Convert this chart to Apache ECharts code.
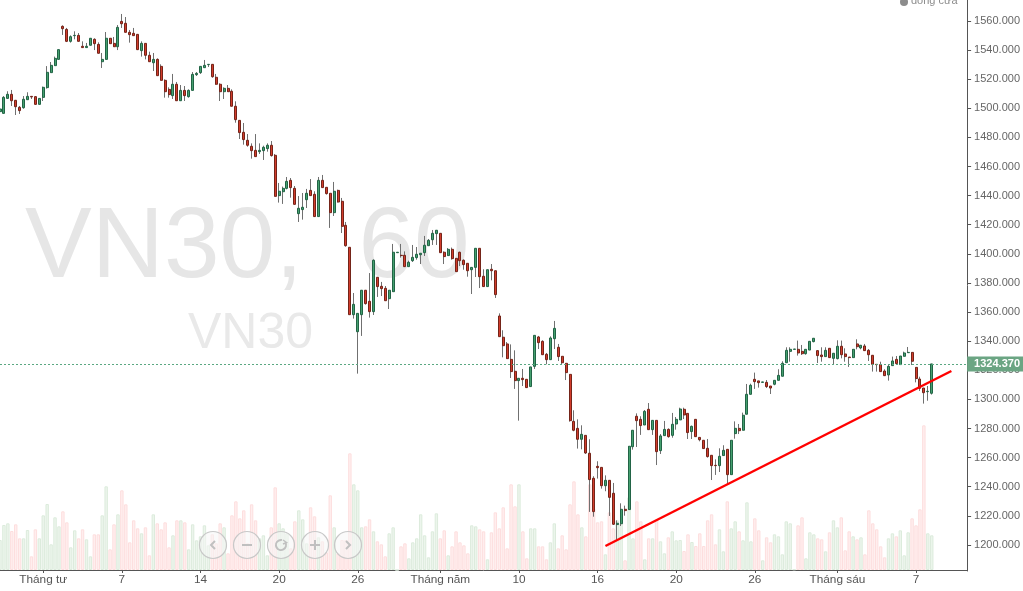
<!DOCTYPE html>
<html><head><meta charset="utf-8">
<style>html,body{margin:0;padding:0;background:#fff;overflow:hidden}#c{width:1023px;height:591px}</style>
<script src="https://cdn.jsdelivr.net/npm/echarts@6/dist/echarts.min.js"></script>
</head><body><div id="c"></div>
<script>
// Each row: open, close, low, high
const ohlc = [
[1497.7,1499.5,1497.7,1499.5],[1496.5,1507.5,1496.5,1508.4],[1506.8,1509.6,1506.8,1511.7],[1509.6,1505.2,1501.6,1512.6],[1505.5,1501.1,1495.4,1505.7],
[1500.7,1498.4,1496.1,1501.6],[1500.4,1506.2,1499.7,1508.4],[1505.9,1508.2,1505.9,1511],[1508.2,1507.8,1506.4,1508.2],[1508,1502.7,1502.5,1508.2],
[1502.7,1506.8,1502.7,1506.8],[1507.5,1514.4,1505,1514.9],[1514.2,1524.7,1513.5,1529],[1524.5,1529.5,1524.5,1531.8],[1529.3,1534.3,1529.3,1535.5],
[1533.6,1540.3,1533.6,1540.3],[1556.3,1554.7,1550.4,1557],[1554.2,1546,1545.5,1555.2],[1546,1549.2,1545.1,1550.1],[1549.9,1550.1,1547.4,1552.9],
[1550.1,1546,1546,1551.7],[1542.6,1541.7,1541.7,1546],[1541.7,1542.6,1541.7,1544.9],[1543.3,1548.1,1543.3,1548.1],[1547.4,1544.4,1540,1548.1],
[1543.9,1537.8,1537.8,1545.3],[1532,1533.6,1527.7,1538],[1533.6,1548.1,1533.6,1552.4],[1548.1,1544.4,1544.4,1548.1],[1544.6,1542.3,1542.3,1549],
[1542.3,1555.6,1540,1557.2],[1559.7,1558.1,1555.2,1564.8],[1558.4,1552.2,1552.2,1562.7],[1552.2,1550.6,1545.1,1553.8],[1551.5,1549.9,1549.9,1555.2],
[1550.8,1540.3,1540,1550.8],[1539.6,1544.6,1535.5,1546],[1544.6,1536.4,1533.6,1544.6],[1536.4,1532,1532,1538.9],[1531.3,1533.6,1525.6,1538],
[1533.6,1522.4,1522.4,1534.3],[1528.8,1519.2,1519.2,1530.2],[1519.2,1511.4,1507.3,1519.9],[1513,1509.4,1507.3,1514.4],[1508.7,1516.5,1506.4,1523.6],
[1516.5,1505.2,1505.2,1518.1],[1505.2,1512.3,1505.2,1516],[1512.3,1508.7,1505,1515.3],[1508,1512.3,1507.3,1513],[1512.3,1523.3,1512.3,1524.9],
[1523.1,1524,1522.2,1524.9],[1524.5,1528.8,1523.6,1528.8],[1527.9,1529.5,1527.9,1533.2],[1530,1530.2,1528.4,1530.4],[1530.2,1521.7,1521,1530.4],
[1521.3,1516.5,1516.2,1523.6],[1516.5,1511.4,1505,1517.2],[1511.4,1513.7,1506.4,1514.4],[1513.7,1511.4,1511.4,1516],[1511.7,1501.4,1501.4,1513],
[1501.4,1492.2,1490.1,1504.8],[1491.7,1483.3,1478.9,1491.7],[1483.5,1478.5,1475,1489.9],[1478,1474.6,1473.6,1482.3],[1473.9,1470.9,1465.4,1475.9],
[1471.1,1466.8,1466.8,1482.3],[1470.2,1471.1,1468.6,1475.9],[1470.9,1473.2,1464.5,1474.3],[1472.3,1474.6,1470.2,1475.9],[1474.6,1467.5,1466.8,1477.5],
[1467.7,1439.5,1439.5,1468.6],[1440,1443,1435.2,1448.7],[1442.7,1445,1434.3,1446.2],[1445,1449.8,1444.3,1452.8],[1450.5,1445.5,1438.6,1452.1],
[1445,1434,1434,1446.6],[1427.6,1431.3,1421.9,1439.7],[1430.4,1432,1423.5,1441.8],[1437.2,1441.6,1431.5,1444.6],[1443.6,1440,1440,1451.4],
[1440.9,1425.6,1425.6,1443],[1425.6,1450.5,1425.6,1452.8],[1450.5,1445.5,1445.5,1454.2],[1445.7,1441.4,1440.7,1445.7],[1441.6,1428.3,1417.8,1441.6],
[1428.3,1443,1426,1449.4],[1443.6,1435.6,1435.2,1444.1],[1436.1,1418.9,1414.3,1438.4],[1419.6,1405.6,1404.9,1421.9],[1404.5,1358.2,1358.2,1404.5],
[1358.2,1365.3,1355.5,1373.1],[1346.5,1359.1,1317.7,1359.1],[1358.2,1375,1343.6,1375],[1375,1365.8,1365.1,1375],[1367.4,1360.3,1356.2,1386.8],
[1360.3,1395.6,1358,1396.2],[1383.9,1377.5,1370.4,1383.9],[1377.7,1376.1,1371,1380.7],[1376.3,1367.8,1367.8,1377.9],[1369.2,1375,1362.1,1375],
[1374,1401.1,1374,1406.8],[1400.8,1401.1,1400.8,1401.1],[1399,1398.8,1397.4,1406.8],[1399,1391.2,1391.2,1401.7],[1391.2,1394.2,1391.2,1395.3],
[1395.3,1397.6,1394.4,1406.1],[1397.4,1399.7,1396,1404.7],[1399.4,1400.4,1393,1400.4],[1400.8,1405.9,1398.5,1412.3],[1405.6,1409.3,1405.6,1410.2],
[1409.7,1414.1,1406.1,1416.4],[1413.9,1416.2,1406.1,1416.4],[1414.1,1400.8,1400.8,1414.1],[1401.1,1398.1,1393,1401.7],[1398.8,1403.1,1398.8,1404],
[1403.1,1396.7,1396,1404.3],[1396.9,1387.8,1387.8,1396.9],[1401.1,1395.3,1391.6,1401.5],[1395.6,1392.6,1389.1,1396.2],[1393.5,1388.4,1384.3,1393.5],
[1389.1,1390.7,1372.4,1390.7],[1390.7,1403.8,1384.1,1403.8],[1403.8,1384.3,1376.5,1403.8],[1384.6,1377.5,1377.5,1389.4],[1377.5,1389.1,1377.5,1389.1],
[1389.4,1388.4,1381.8,1393],[1388.4,1372,1369.7,1388.4],[1357.3,1343.1,1343.1,1359.1],[1342.7,1336.9,1328.9,1347.5],[1338.1,1328,1328,1339.4],
[1327.5,1319.1,1314.7,1337.8],[1319.3,1312.9,1307.2,1333.7],[1312.9,1314.5,1285.4,1314.5],[1314.5,1313.6,1309.2,1320.9],[1313.8,1308.1,1307.8,1313.8],
[1308.8,1322.3,1308.8,1322.3],[1322.7,1344,1320.9,1344],[1342.9,1339,1334.6,1343.6],[1339.9,1330.7,1330.7,1340.6],[1331,1327.3,1324.1,1331.9],
[1327.3,1342.2,1327.3,1343.3],[1341.7,1348.8,1334.6,1353.9],[1335.8,1329.4,1326.4,1338.1],[1329.6,1325.2,1324.1,1329.6],[1324.8,1318.4,1313.3,1324.8],
[1317.2,1285.4,1284.7,1317.2],[1284.9,1278.8,1278.1,1292.5],[1280.1,1272.6,1266.2,1286.3],[1272.6,1276,1265.7,1282.2],[1275.3,1263.2,1262.5,1275.3],
[1263,1244.9,1222.7,1272.6],[1245.8,1222.9,1219.4,1247.2],[1254,1253.1,1245.6,1257.5],[1253.3,1240.7,1238.7,1253.3],[1240.7,1244.4,1236.9,1247.8],
[1244.4,1232.7,1219.9,1244.4],[1235.5,1214.2,1213.7,1242.6],[1214,1214.9,1203.4,1216.9],[1214.6,1224.5,1213,1228.6],[1224.5,1223.6,1220.1,1227],
[1224.3,1267.8,1224.3,1267.8],[1267.5,1278.8,1265.5,1278.8],[1288.4,1285.4,1267.3,1290.4],[1286.3,1282,1275.6,1288.4],[1282.4,1291.8,1282.4,1292.7],
[1293.2,1279.2,1279.2,1297.5],[1279.2,1285.6,1275.6,1285.6],[1285.6,1264.1,1254.9,1285.6],[1264.8,1274.9,1262.5,1276.2],[1275.1,1279.4,1275.1,1285.2],
[1279.4,1274.4,1273.7,1280.1],[1275.3,1282.9,1273.7,1290.7],[1283.1,1286.3,1279.2,1287.9],[1285.9,1293.4,1285.9,1294.3],[1293.2,1289.3,1286.5,1294.3],
[1290.4,1277.2,1272.8,1290.4],[1277.9,1281.5,1272.8,1282],[1286.3,1274.4,1274.2,1286.3],[1273.9,1272.3,1271.2,1273.9],[1271.9,1266.2,1266.2,1271.9],
[1266.4,1260.7,1260,1272.8],[1261.6,1254.5,1244.6,1261.6],[1254.7,1254.5,1248.1,1258.8],[1254.5,1260.9,1250.1,1266.4],[1261.4,1265,1261.4,1268.5],
[1265.7,1248.3,1241.9,1265.7],[1248.3,1271.9,1248.3,1271.9],[1276.5,1280.1,1273,1284.9],[1280.1,1278.5,1276.2,1283.1],[1278.8,1289.1,1278.8,1290.9],
[1289.8,1303.5,1289.8,1310.6],[1303.5,1309.7,1303.5,1310.8],[1313.8,1312.2,1307.2,1318.4],[1312.7,1311.5,1308.1,1312.7],[1311.7,1312,1311.7,1312],
[1311.7,1308.8,1307.8,1313.3],[1309.2,1307.8,1303.7,1309.2],[1310.4,1313.1,1309.7,1313.1],[1313.1,1316.5,1313.1,1320.7],[1315.9,1324.8,1315.9,1326.2],
[1325.2,1333.7,1325.2,1335.8],[1333,1334.4,1325.9,1335.8],[1334.4,1334.6,1334.4,1334.6],[1334.4,1331.9,1330.1,1340.4],[1333,1331.4,1330.5,1337.4],
[1331.4,1334.4,1330.7,1334.4],[1333.9,1339.9,1333.9,1339.9],[1339.7,1342,1339.2,1342],[1333.5,1330.1,1325,1333.5],[1330.5,1329.4,1325.9,1335.8],
[1329.4,1333.7,1329.4,1335.8],[1335.1,1328.7,1328.7,1335.1],[1328.2,1331.7,1324.3,1331.7],[1328,1336.5,1327.5,1340.6],[1336.5,1330.7,1328.2,1340.4],
[1331.2,1329.4,1325.9,1335.1],[1329.1,1328.7,1322.3,1329.1],[1328.7,1334.4,1328.7,1334.4],[1338.1,1336.2,1334.4,1341.3],[1335.3,1337.2,1334.4,1337.2],
[1336.7,1333.5,1333.5,1338.1],[1333.7,1330.7,1326.4,1334.6],[1330.3,1324.1,1319.1,1330.3],[1324.1,1323.9,1319.1,1324.1],[1323.9,1319.1,1319.1,1325.9],
[1319.5,1316.3,1316.1,1320.7],[1316.8,1322.7,1312.9,1323.6],[1323.2,1326.4,1323.2,1329.4],[1327.5,1324.6,1323.9,1329.8],[1323.9,1329.8,1323.9,1329.8],
[1329.6,1331.9,1329.6,1332.8],[1332.1,1332.3,1331.9,1336],[1332.3,1326.2,1323.6,1332.3],[1322,1314.3,1311.7,1322],[1314,1307.6,1305.8,1315.6],
[1307.8,1304.6,1297.1,1307.8],[1305.3,1305.6,1299.1,1309.2],[1304.2,1324.37,1303.3,1324.37]
];
const volumes = [
90,135,140,117,137,95,95,120,41,122,95,164,198,77,158,131,176,143,68,119,95,122,92,41,107,107,164,251,62,137,167,239,197,83,149,125,110,128,44,167,
140,122,143,68,104,149,149,143,62,137,89,101,134,74,107,80,140,128,50,164,206,155,179,80,197,149,95,104,44,128,248,140,125,110,65,146,179,152,80,188,
161,98,86,53,224,128,50,90,90,350,257,239,128,131,152,116,86,77,41,110,128,0,71,80,35,83,95,167,104,38,116,170,95,119,44,71,116,83,74,50,
134,131,122,116,32,113,173,125,188,65,257,191,257,116,35,125,125,71,71,32,83,140,65,104,62,197,266,167,128,101,257,185,143,146,47,173,125,149,140,29,
218,95,206,146,32,95,95,152,86,50,98,116,89,90,57,107,84,72,110,72,149,167,77,122,56,206,125,146,116,89,203,86,155,119,29,98,83,107,101,47,
146,140,2,134,158,35,113,107,95,92,56,113,149,128,158,59,116,101,92,98,47,179,140,122,71,38,95,110,101,119,44,113,155,134,182,434,110,104
];
const tickLabels = {11:'Tháng tư',31:'7',51:'14',71:'20',91:'26',112:'Tháng năm',132:'10',152:'16',172:'20',192:'26',213:'Tháng sáu',233:'7'};
const priceTicks = [1200,1220,1240,1260,1280,1300,1320,1340,1360,1380,1400,1420,1440,1460,1480,1500,1520,1540,1560];
const lastPrice = 1324.37;
const trendIndex = [154,242];
const trendPrice = [1199.3,1319.5];
const slotCount = 247;
const categories = Array.from({length:slotCount},(_,i)=>tickLabels[i]||'');
const bodies = ohlc.map(r=>[r[0],r[1],Math.min(r[0],r[1]),Math.max(r[0],r[1])]);

const font = '"Liberation Sans",Arial,sans-serif';
const btnX = [213,247,281,315,348], btnY = 545;
const btnStroke = '#c8c8c8', glyph = '#c0c0c0';
const graphics = [
  {type:'text',silent:true,z:-1,style:{x:25,y:249,text:'VN30,  60',font:'100px '+font,fill:'#e6e6e6',verticalAlign:'middle'}},
  {type:'text',silent:true,z:-1,style:{x:188,y:334,text:'VN30',font:'50px '+font,fill:'#e9e9e9',verticalAlign:'middle'}},
  {type:'circle',silent:true,z:50,shape:{cx:904,cy:2,r:4},style:{fill:'#8c8c8c'}},
  {type:'text',silent:true,z:50,style:{x:911,y:1,text:'đóng cửa',font:'11px '+font,fill:'#8c8c8c',verticalAlign:'middle'}}
];
btnX.forEach(x=>graphics.push({type:'circle',silent:true,z:60,shape:{cx:x,cy:btnY,r:13.5},style:{fill:'rgba(245,245,245,0.55)',stroke:btnStroke,lineWidth:1.2}}));
const gl = {stroke:glyph,lineWidth:2,fill:null};
graphics.push(
 {type:'polyline',silent:true,z:61,shape:{points:[[215,541],[211,545],[215,549]]},style:gl},
 {type:'line',silent:true,z:61,shape:{x1:242,y1:545,x2:252,y2:545},style:gl},
 {type:'arc',silent:true,z:61,shape:{cx:281,cy:545,r:5,startAngle:-0.5,endAngle:4.9},style:gl},
 {type:'polyline',silent:true,z:61,shape:{points:[[283,540],[286.5,542.5],[283,544]]},style:{stroke:glyph,lineWidth:1.5,fill:null}},
 {type:'line',silent:true,z:61,shape:{x1:310,y1:545,x2:320,y2:545},style:gl},
 {type:'line',silent:true,z:61,shape:{x1:315,y1:540,x2:315,y2:550},style:gl},
 {type:'polyline',silent:true,z:61,shape:{points:[[346,541],[350,545],[346,549]]},style:gl}
);

const chart = echarts.init(document.getElementById('c'),null,{renderer:'canvas',width:1023,height:591});
chart.setOption({
  animation:false,
  backgroundColor:'#fff',
  graphic:graphics,
  grid:{left:-0.6,top:0,width:968.6,height:571,containLabel:false},
  xAxis:{type:'category',data:categories,boundaryGap:false,
    axisLine:{lineStyle:{color:'#555',width:1}},
    axisTick:{length:3,lineStyle:{color:'#555'},interval:(i)=>!!tickLabels[i]},
    axisLabel:{color:'#555',fontSize:11.8,fontFamily:font,margin:3,interval:(i)=>!!tickLabels[i],hideOverlap:false},
    splitLine:{show:false}},
  yAxis:[
   {type:'value',position:'right',min:1182.1,max:1574.4,scale:true,
    axisLine:{show:true,lineStyle:{color:'#555',width:1}},
    axisTick:{show:true,length:4,lineStyle:{color:'#555'},customValues:priceTicks},
    axisLabel:{color:'#666',fontSize:11,fontFamily:font,margin:7,padding:[2,0,0,0],customValues:priceTicks,formatter:v=>v.toFixed(3)},
    splitLine:{show:false}},
   {type:'value',show:false,min:-3,max:1710,splitLine:{show:false}}
  ],
  series:[
   {type:'bar',yAxisIndex:1,barWidth:3.4,z:2,silent:true,
    data:volumes.map((v,i)=>({value:v,itemStyle:ohlc[i][1]>=ohlc[i][0]
      ?{color:'#ecf5ec',borderColor:'#dcebdc',borderWidth:1}
      :{color:'#ffeeee',borderColor:'#fddede',borderWidth:1}}))},
   {type:'candlestick',name:'wick',barWidth:1,z:3,silent:true,data:ohlc,
    itemStyle:{color:'#707070',color0:'#707070',borderColor:'#707070',borderColor0:'#707070',borderColorDoji:'#707070',borderWidth:1},
    markLine:{silent:true,symbol:'none',animation:false,z:8,
      lineStyle:{color:'#5aa882',type:[2,2],width:1},
      label:{show:true,position:'end',distance:0,formatter:()=>lastPrice.toFixed(3),color:'#fff',fontSize:11,fontWeight:'bold',fontFamily:font,backgroundColor:'#6ba583',padding:[3,3,2,7],width:46,height:10,lineHeight:10},
      data:[{yAxis:lastPrice}]}},
   {type:'candlestick',name:'body',barWidth:2.5,z:4,silent:true,data:bodies,
    itemStyle:{color:'#45a06f',color0:'#d23c2c',borderColor:'#226446',borderColor0:'#742419',borderColorDoji:'#742419',borderWidth:1}},
   {type:'line',name:'trend',z:9,silent:true,data:[],
    markLine:{silent:true,symbol:'none',animation:false,z:9,label:{show:false},
      lineStyle:{color:'#ff0000',width:2.4,type:'solid'},
      data:[[{coord:[trendIndex[0],trendPrice[0]]},{coord:[trendIndex[1],trendPrice[1]]}]]}}
  ]
});
</script></body></html>
